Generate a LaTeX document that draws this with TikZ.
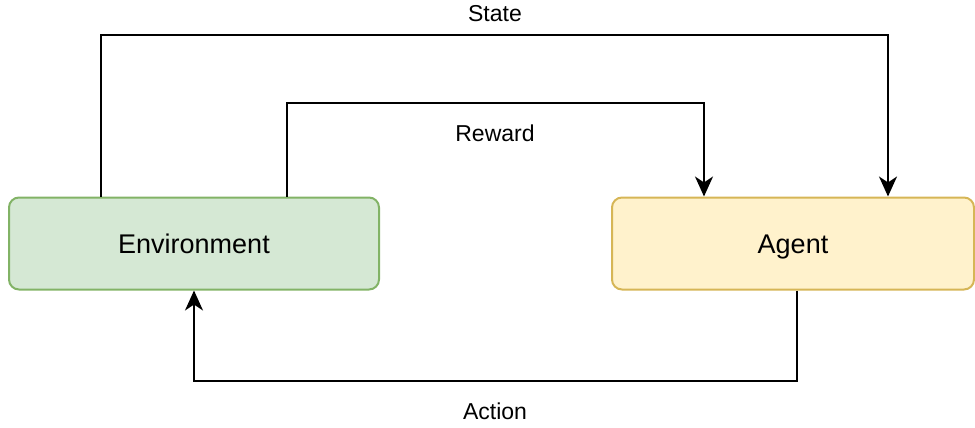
\documentclass[tikz,border=0pt]{standalone}
\usepackage{fontspec}
\setmainfont{Liberation Sans}
\usetikzlibrary{arrows.meta}
\definecolor{envfill}{HTML}{D5E8D4}
\definecolor{envline}{HTML}{82B366}
\definecolor{agfill}{HTML}{FFF2CC}
\definecolor{agline}{HTML}{D6B656}
\tikzset{
  block/.style={rounded corners=10pt, line width=2pt, minimum height=92pt,
    inner sep=0pt, text height=20pt, text depth=0pt,
    font=\fontsize{27}{32}\selectfont},
  envbox/.style={block, fill=envfill, draw=envline, minimum width=370pt},
  agbox/.style={block, fill=agfill, draw=agline, minimum width=362pt},
  flow/.style={line width=2.2pt, -{Stealth[length=20pt, width=18pt, inset=6pt]}},
  lbl/.style={font=\fontsize{23}{28}\selectfont, inner sep=0pt}
}
\begin{document}
\begin{tikzpicture}[x=1pt, y=-1pt]
  \useasboundingbox (0,0) rectangle (975,428);
  \node[envbox] (env) at (194,243.5) {Environment};
  \node[agbox] (agent) at (793,243.5) {Agent};
  % feedback paths
  \coordinate (s1) at (101,35);
  \coordinate (s2) at (888,35);
  \coordinate (r1) at (287,103);
  \coordinate (r2) at (704,103);
  \coordinate (a1) at (797,381);
  \coordinate (a2) at (194,381);
  \draw[flow] (env.north -| s1) -- (s1) -- (s2) -- (agent.north -| s2);
  \draw[flow] (env.north -| r1) -- (r1) -- (r2) -- (agent.north -| r2);
  \draw[flow] (agent.south -| a1) -- (a1) -- (a2) -- (env.south -| a2);
  \node[lbl] (lstate) at (495,14) {State};
  \node[lbl] (lreward) at (495,133) {Reward};
  \node[lbl] (laction) at (495,411) {Action};
\end{tikzpicture}
\end{document}
